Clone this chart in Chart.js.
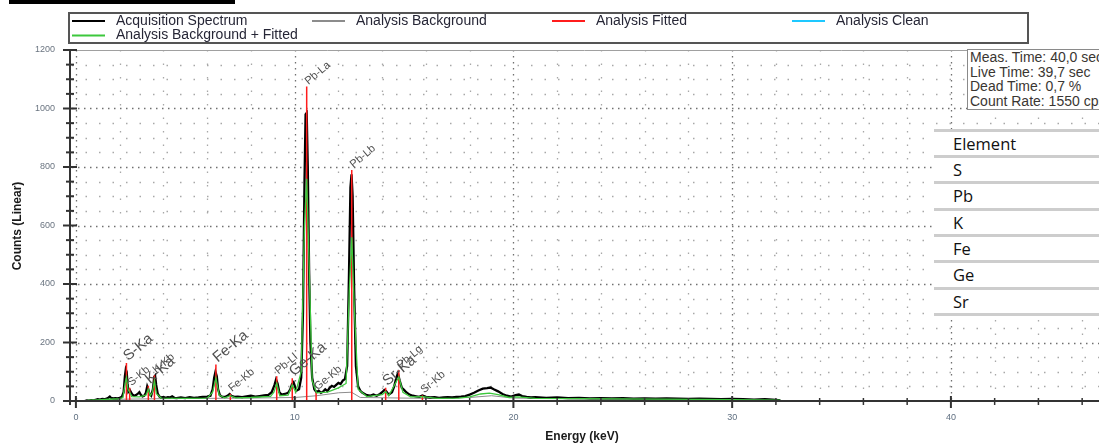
<!DOCTYPE html>
<html>
<head>
<meta charset="utf-8">
<script src="https://cdn.jsdelivr.net/npm/chart.js@4"></script>
<style>
  html, body { margin: 0; padding: 0; background: #fff; overflow: hidden; }
  #wrap { position: relative; width: 1099px; height: 444px; overflow: hidden; }
  #chart { position: absolute; left: 0; top: 0; }
  #info { position: absolute; left: 967px; top: 49px; width: 150px; height: 61px; border: 1px solid #8a8a8a;
          background: #fff; font: 14px 'Liberation Sans', Arial, sans-serif; line-height: 14.5px; color: #3a3632;
          padding: 0 0 0 2px; box-sizing: border-box; white-space: nowrap; }
  #table { position: absolute; left: 934px; top: 128.5px; width: 170px; background: #fff;
           font: 16.5px 'Open Sans', sans-serif; color: #111; }
  #table div { border-top: 3px solid #cdcdcd; height: 23.4px; line-height: 23.4px; padding-left: 19px; }
  #table div:last-child { height: 0; }
</style>
</head>
<body>
<div id="wrap">
  <canvas id="chart" width="1099" height="444"></canvas>
  <div id="info"></div>
  <div id="table"></div>
</div>
<script>
// acquisition spectrum (keV / counts)
const acqEnergy = [
  0.40, 0.50, 0.60, 0.70, 0.80, 0.90, 1.00, 1.10, 1.20, 1.30,
  1.40, 1.50, 1.55, 1.60, 1.70, 1.80, 1.90, 2.00, 2.10, 2.18,
  2.24, 2.28, 2.32, 2.36, 2.40, 2.46, 2.52, 2.58, 2.66, 2.74,
  2.82, 2.90, 2.96, 3.04, 3.12, 3.20, 3.26, 3.30, 3.36, 3.44,
  3.52, 3.58, 3.62, 3.67, 3.74, 3.82, 3.90, 4.00, 4.10, 4.20,
  4.30, 4.40, 4.50, 4.60, 4.80, 5.00, 5.20, 5.40, 5.60, 5.80,
  6.00, 6.15, 6.25, 6.32, 6.38, 6.44, 6.50, 6.58, 6.70, 6.85,
  6.95, 7.03, 7.10, 7.25, 7.40, 7.60, 7.80, 8.00, 8.20, 8.40,
  8.60, 8.80, 8.95, 9.08, 9.15, 9.22, 9.30, 9.40, 9.55, 9.70,
  9.80, 9.88, 9.95, 10.02, 10.10, 10.20, 10.30, 10.38, 10.45, 10.50,
  10.55, 10.60, 10.66, 10.72, 10.80, 10.90, 11.00, 11.10, 11.20, 11.30,
  11.40, 11.50, 11.60, 11.70, 11.80, 11.90, 12.00, 12.10, 12.20, 12.30,
  12.40, 12.48, 12.55, 12.60, 12.65, 12.72, 12.80, 12.90, 13.00, 13.10,
  13.20, 13.30, 13.45, 13.60, 13.75, 13.90, 14.00, 14.10, 14.18, 14.30,
  14.45, 14.55, 14.65, 14.72, 14.80, 14.90, 15.00, 15.10, 15.25, 15.40,
  15.55, 15.70, 15.84, 16.00, 16.20, 16.40, 16.60, 16.80, 17.00, 17.20,
  17.40, 17.60, 17.80, 18.00, 18.20, 18.40, 18.60, 18.80, 18.95, 19.10,
  19.30, 19.50, 19.70, 19.90, 20.10, 20.25, 20.40, 20.60, 20.80, 21.00,
  21.50, 22.00, 22.50, 23.00, 23.50, 24.00, 24.50, 25.00, 25.50, 26.00,
  26.50, 27.00, 27.50, 28.00, 28.50, 29.00, 29.50, 30.00, 30.50, 31.00,
  31.50, 32.00, 32.20
];
const acqCounts = [
  0, 2, 1, 3, 2, 4, 6, 5, 7, 6,
  8, 12, 15, 11, 9, 10, 9, 11, 14, 30,
  85, 108, 100, 60, 32, 38, 30, 22, 18, 20,
  24, 30, 22, 16, 18, 28, 50, 42, 24, 18,
  40, 82, 86, 55, 25, 15, 12, 14, 11, 13,
  12, 16, 11, 10, 12, 10, 13, 11, 12, 14,
  15, 18, 40, 80, 100, 85, 40, 20, 14, 15,
  19, 24, 18, 14, 15, 13, 16, 18, 15, 17,
  19, 21, 30, 55, 74, 60, 30, 22, 24, 28,
  40, 58, 64, 48, 36, 40, 80, 300, 750, 980,
  985, 800, 450, 200, 80, 40, 30, 35, 28, 32,
  40, 34, 45, 52, 48, 55, 62, 58, 70, 75,
  120, 420, 730, 775, 700, 380, 120, 50, 35, 28,
  24, 20, 18, 22, 18, 24, 30, 38, 34, 22,
  30, 50, 80, 95, 70, 45, 38, 30, 22, 18,
  16, 14, 19, 14, 12, 13, 11, 12, 13, 12,
  14, 15, 17, 22, 28, 36, 42, 44, 46, 40,
  33, 24, 18, 15, 20, 22, 17, 14, 12, 13,
  11, 12, 10, 11, 9, 10, 9, 10, 8, 9,
  8, 9, 8, 7, 8, 7, 6, 7, 6, 5,
  6, 4, 2
];

// background + fitted curve
const bgFitEnergy = [
  0.40, 0.60, 1.00, 1.50, 2.00, 2.15, 2.25, 2.31, 2.38, 2.46,
  2.55, 2.90, 3.20, 3.31, 3.40, 3.50, 3.59, 3.68, 3.90, 5.00,
  6.00, 6.25, 6.40, 6.55, 6.80, 7.06, 7.30, 8.00, 8.90, 9.05,
  9.18, 9.32, 9.70, 9.89, 10.05, 10.30, 10.45, 10.55, 10.65, 10.80,
  11.00, 11.50, 12.00, 12.35, 12.50, 12.61, 12.72, 12.90, 13.30, 14.00,
  14.16, 14.30, 14.60, 14.76, 14.95, 15.30, 15.84, 16.50, 17.50, 18.00,
  18.50, 18.90, 19.30, 19.80, 20.20, 21.00, 25.00, 30.00, 32.20
];
const bgFitCounts = [
  0, 3, 4, 6, 8, 12, 60, 80, 40, 30,
  15, 14, 20, 40, 18, 30, 70, 25, 10, 9,
  10, 30, 78, 20, 11, 18, 11, 12, 16, 30,
  60, 18, 20, 55, 30, 100, 600, 760, 500, 70,
  28, 30, 45, 60, 380, 560, 330, 40, 15, 22,
  32, 18, 60, 82, 30, 14, 15, 9, 10, 14,
  24, 27, 22, 12, 14, 9, 7, 5, 3
];

// analysis background
const bgEnergy = [0.40, 1.00, 2.00, 4.00, 8.00, 10.00, 11.00, 12.00, 12.60, 13.00, 16.00, 18.00, 19.00, 20.00, 25.00, 32.20];
const bgCounts = [0, 3, 6, 8, 10, 12, 18, 28, 30, 12, 9, 12, 18, 10, 6, 3];

// fitted peaks
const peakNames = ['S-Ka', 'S-Kb', 'K-Ka', 'K-Kb', 'Fe-Ka', 'Fe-Kb', 'Pb-Ll', 'Ge-Ka', 'Pb-La', 'Ge-Kb', 'Pb-Lb', 'Sr-Ka', 'Pb-Lg', 'Sr-Kb'];
const peakEnergy = [2.31, 2.46, 3.31, 3.59, 6.40, 7.06, 9.18, 9.89, 10.55, 10.98, 12.61, 14.16, 14.76, 15.84];
const peakFit = [130, 45, 52, 88, 125, 25, 85, 78, 1075, 30, 790, 45, 105, 20];

const seriesNames = ['Acquisition Spectrum', 'Analysis Background', 'Analysis Fitted', 'Analysis Clean', 'Analysis Background + Fitted'];
const xTicks = [0, 10, 20, 30, 40];
const yTicks = [0, 200, 400, 600, 800, 1000, 1200];

const infoLines = ['Meas. Time: 40,0 sec', 'Live Time: 39,7 sec', 'Dead Time: 0,7 %', 'Count Rate: 1550 cps'];
const elements = ['Element', 'S', 'Pb', 'K', 'Fe', 'Ge', 'Sr'];

document.getElementById('info').innerHTML = infoLines.map(t => '<div>' + t + '</div>').join('');
document.getElementById('table').innerHTML = elements.map(t => '<div>' + t + '</div>').join('') + '<div></div>';

const FONT = "'Liberation Sans', Arial, sans-serif";
const toPts = (xs, ys) => xs.map((x, i) => ({ x, y: ys[i] }));

const fittedPts = [];
peakEnergy.forEach((e, i) => {
  fittedPts.push({ x: e, y: 0 }, { x: e, y: peakFit[i] }, { x: e, y: null });
});

const colors = ['#000000', '#8c8c8c', '#ff1c1c', '#1ec8ff', '#3cc83c'];

function dotted(ctx, x1, y1, x2, y2, dash, color, w) {
  ctx.beginPath();
  ctx.setLineDash(dash);
  ctx.strokeStyle = color;
  ctx.lineWidth = w;
  ctx.moveTo(x1, y1);
  ctx.lineTo(x2, y2);
  ctx.stroke();
  ctx.setLineDash([]);
}

const decor = {
  id: 'decor',
  beforeDatasetsDraw(chart) {
    const { ctx, chartArea: a, scales: { x, y } } = chart;
    ctx.save();
    // horizontal grid: major every 200, minor every 50
    for (let v = 50; v < 1200; v += 50) {
      const py = Math.round(y.getPixelForValue(v)) + 0.5;
      const major = v % 200 === 0;
      dotted(ctx, a.left + 2, py, a.right, py, major ? [1.5, 4.5] : [1.5, 12], major ? '#707070' : '#a8a8a8', 1.3);
    }
    // vertical grid: major every 10 keV, minor every 2 keV
    for (let v = 0; v <= 46; v += 2) {
      const px = Math.round(x.getPixelForValue(v)) + 0.5;
      const major = v % 10 === 0;
      dotted(ctx, px, a.top, px, a.bottom, major ? [1.5, 4.5] : [1.5, 12], major ? '#707070' : '#a8a8a8', 1.3);
    }
    // top edge
    dotted(ctx, a.left, a.top + 0.5, a.right, a.top + 0.5, [], '#a0a0a0', 1);
    ctx.restore();
  },
  afterDatasetsDraw(chart) {
    const { ctx, chartArea: a, scales: { x, y } } = chart;
    ctx.save();
    // axes
    dotted(ctx, a.left, a.top, a.left, a.bottom + 4, [], '#333', 2);
    dotted(ctx, a.left - 7, a.bottom, a.right, a.bottom, [], '#333', 2);
    // y tick marks
    for (let v = 0; v <= 1200; v += 50) {
      const py = y.getPixelForValue(v);
      const major = v % 200 === 0;
      dotted(ctx, a.left - (major ? 7 : 4), py, a.left + (major ? 7 : 4), py, [], '#333', 2);
    }
    // x tick marks
    for (let v = 0; v <= 46; v += 2) {
      const px = x.getPixelForValue(v);
      const major = v % 10 === 0;
      dotted(ctx, px, a.bottom - (major ? 5 : 3), px, a.bottom + (major ? 7 : 4), [], '#333', major ? 2 : 1.5);
    }
    // peak labels
    ctx.fillStyle = '#505050';
    ctx.textBaseline = 'alphabetic';
    peakNames.forEach((name, i) => {
      const big = /Ka$/.test(name) && !/^Pb/.test(name);
      const px = x.getPixelForValue(peakEnergy[i]) + 1;
      const py = y.getPixelForValue(peakFit[i]) - 1;
      ctx.save();
      ctx.translate(px, py);
      ctx.rotate(-40 * Math.PI / 180);
      ctx.font = (big ? 15 : 11) + 'px ' + FONT;
      ctx.fillText(name, 1, 0);
      ctx.restore();
    });
    ctx.restore();
  },
  afterDraw(chart) {
    const { ctx } = chart;
    ctx.save();
    // cut-off bar at the very top
    ctx.fillStyle = '#000';
    ctx.fillRect(9, 0, 226, 4);
    // legend box
    ctx.fillStyle = '#fff';
    ctx.fillRect(69, 13, 959, 30);
    ctx.strokeStyle = '#555';
    ctx.lineWidth = 2;
    ctx.strokeRect(69, 13, 959, 30);
    ctx.font = '14px ' + FONT;
    ctx.textBaseline = 'middle';
    chart.data.datasets.forEach((ds, i) => {
      const col = i < 4 ? i : 0;
      const row = i < 4 ? 0 : 1;
      const lx = 72 + col * 240;
      const ly = 21 + row * 14.5;
      dotted(ctx, lx, ly, lx + 33, ly, [], ds.borderColor, 2);
      ctx.fillStyle = '#262636';
      ctx.fillText(ds.label, lx + 44, ly);
    });
    // axis titles
    ctx.fillStyle = '#1a1a1a';
    ctx.font = 'bold 12px ' + FONT;
    ctx.textAlign = 'center';
    ctx.fillText('Energy (keV)', 582, 437);
    ctx.translate(17.5, 226);
    ctx.rotate(-Math.PI / 2);
    ctx.fillText('Counts (Linear)', 0, 0);
    ctx.restore();
  }
};

new Chart(document.getElementById('chart'), {
  type: 'line',
  data: {
    datasets: [
      { label: seriesNames[0], data: toPts(acqEnergy, acqCounts), borderColor: colors[0], borderWidth: 2.3, order: 2 },
      { label: seriesNames[1], data: toPts(bgEnergy, bgCounts), borderColor: colors[1], borderWidth: 1, order: 3 },
      { label: seriesNames[2], data: fittedPts, borderColor: colors[2], borderWidth: 1.5, order: 1, spanGaps: false },
      { label: seriesNames[3], data: [], borderColor: colors[3], borderWidth: 1, order: 4 },
      { label: seriesNames[4], data: toPts(bgFitEnergy, bgFitCounts), borderColor: colors[4], borderWidth: 1.3, order: 0 }
    ]
  },
  options: {
    responsive: false,
    animation: false,
    devicePixelRatio: 1,
    layout: { padding: { top: 50, left: 0, right: 0, bottom: 0 } },
    elements: { point: { radius: 0 }, line: { tension: 0 } },
    plugins: { legend: { display: false }, tooltip: { enabled: false } },
    scales: {
      x: {
        type: 'linear',
        min: -0.27,
        max: 46.77,
        afterBuildTicks: s => { s.ticks = xTicks.map(v => ({ value: v })); },
        afterFit: s => { s.height = 43; },
        grid: { display: false, drawTicks: false },
        border: { display: false },
        ticks: { autoSkip: false, maxRotation: 0, padding: 11, color: '#5f6f80', font: { family: FONT, size: 9 },
                 callback: v => String(v) }
      },
      y: {
        type: 'linear',
        min: 0,
        max: 1200,
        afterBuildTicks: s => { s.ticks = yTicks.map(v => ({ value: v })); },
        afterFit: s => { s.width = 70; },
        grid: { display: false, drawTicks: false },
        border: { display: false },
        ticks: { autoSkip: false, padding: 15, color: '#6a7480', font: { family: FONT, size: 9 },
                 callback: v => String(v) }
      }
    }
  },
  plugins: [decor]
});
</script>
</body>
</html>
